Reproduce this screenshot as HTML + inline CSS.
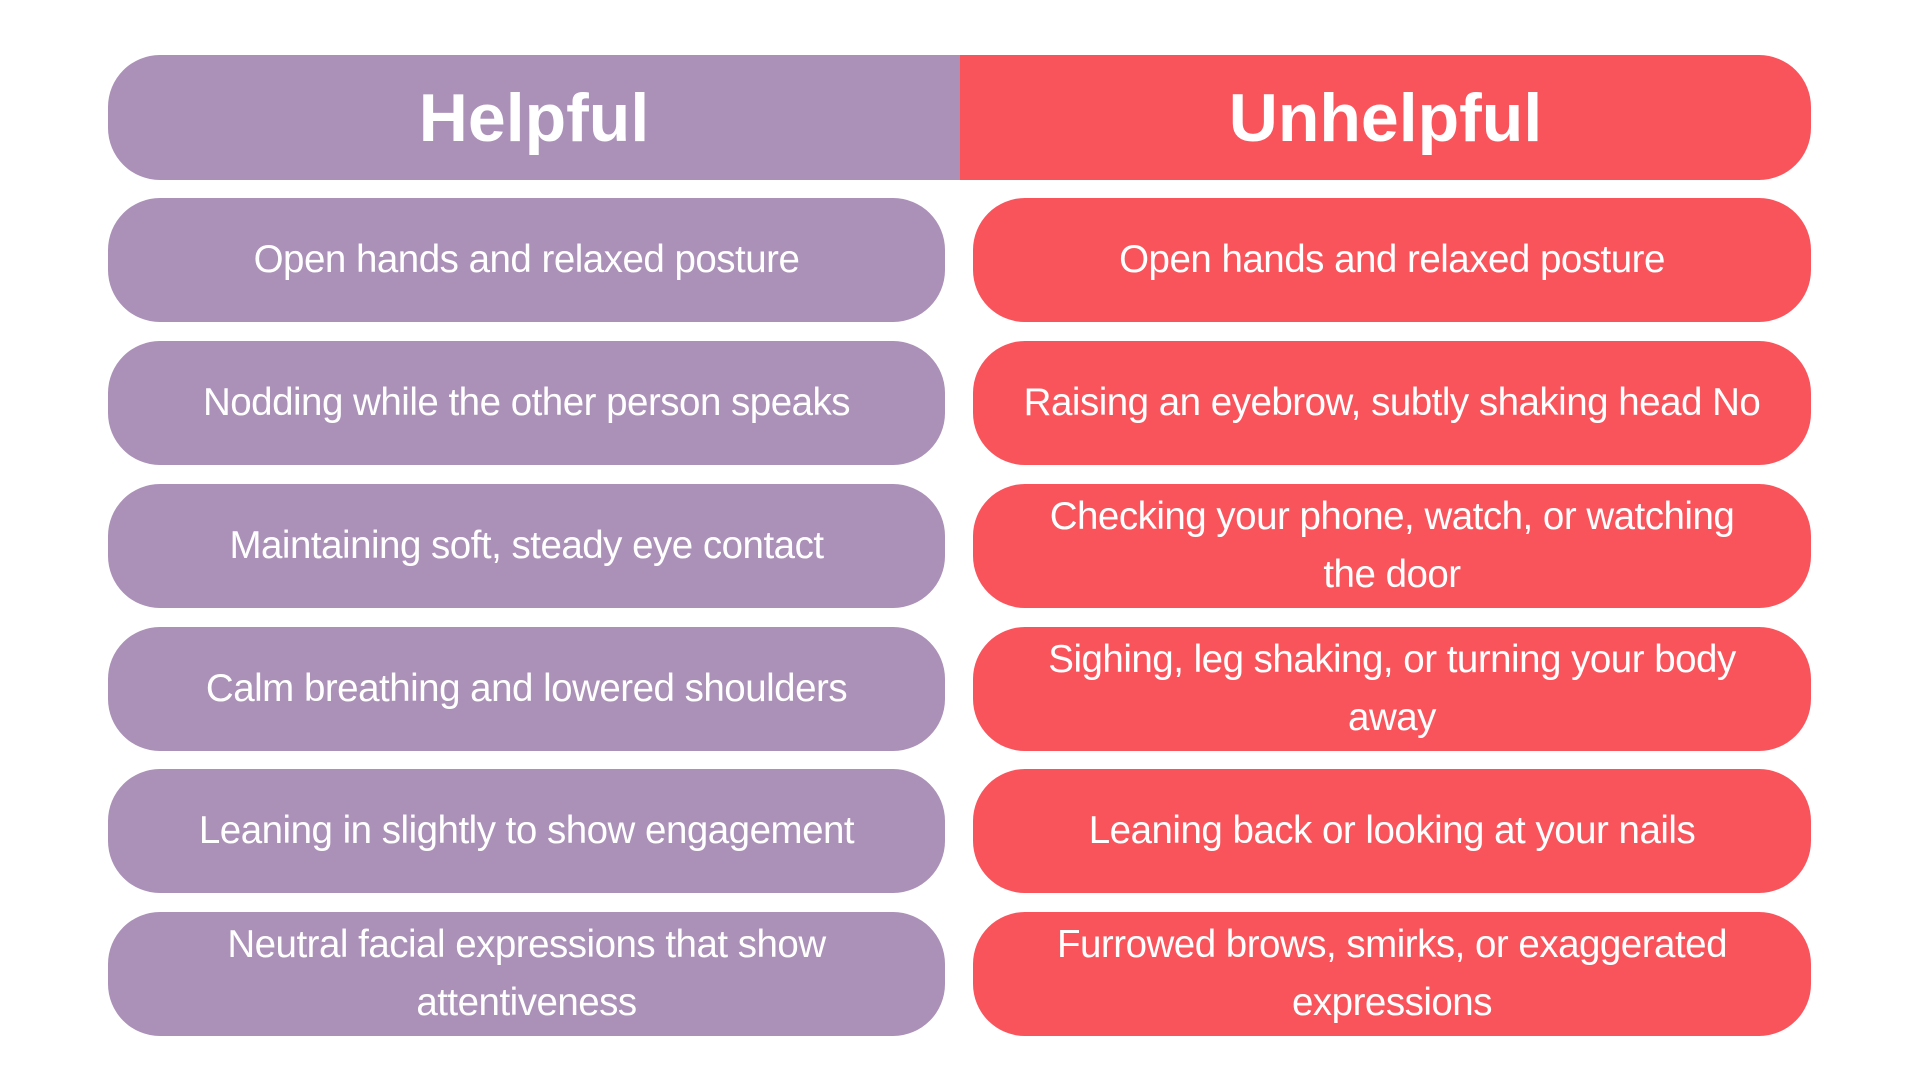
<!DOCTYPE html>
<html><head><style>
body{margin:0;width:1920px;height:1080px;background:#fff;font-family:"Liberation Sans",sans-serif;position:relative;overflow:hidden}
.h{position:absolute;top:55px;height:125px;display:flex;align-items:center;justify-content:center;color:#fff;font-weight:bold;font-size:68px}
.b{position:absolute;height:124px;border-radius:52px;display:flex;align-items:center;justify-content:center;text-align:center;color:#fff;font-size:38.5px;line-height:58px;letter-spacing:-0.5px}
.p{background:#ab90b8}.r{background:#f9545c}
.l{left:108px;width:837px}.rt{left:973px;width:838px}
</style></head><body>
<div class="h p" style="left:108px;width:852px;border-radius:52px 0 0 52px">Helpful</div>
<div class="h r" style="left:960px;width:851px;border-radius:0 52px 52px 0">Unhelpful</div>

<div class="b p l" style="top:198px">Open hands and relaxed posture</div>
<div class="b r rt" style="top:198px">Open hands and relaxed posture</div>
<div class="b p l" style="top:341px">Nodding while the other person speaks</div>
<div class="b r rt" style="top:341px">Raising an eyebrow, subtly shaking head No</div>
<div class="b p l" style="top:484px">Maintaining soft, steady eye contact</div>
<div class="b r rt" style="top:484px">Checking your phone, watch, or watching<br>the door</div>
<div class="b p l" style="top:627px">Calm breathing and lowered shoulders</div>
<div class="b r rt" style="top:627px">Sighing, leg shaking, or turning your body<br>away</div>
<div class="b p l" style="top:769px">Leaning in slightly to show engagement</div>
<div class="b r rt" style="top:769px">Leaning back or looking at your nails</div>
<div class="b p l" style="top:912px">Neutral facial expressions that show<br>attentiveness</div>
<div class="b r rt" style="top:912px">Furrowed brows, smirks, or exaggerated<br>expressions</div>
</body></html>
